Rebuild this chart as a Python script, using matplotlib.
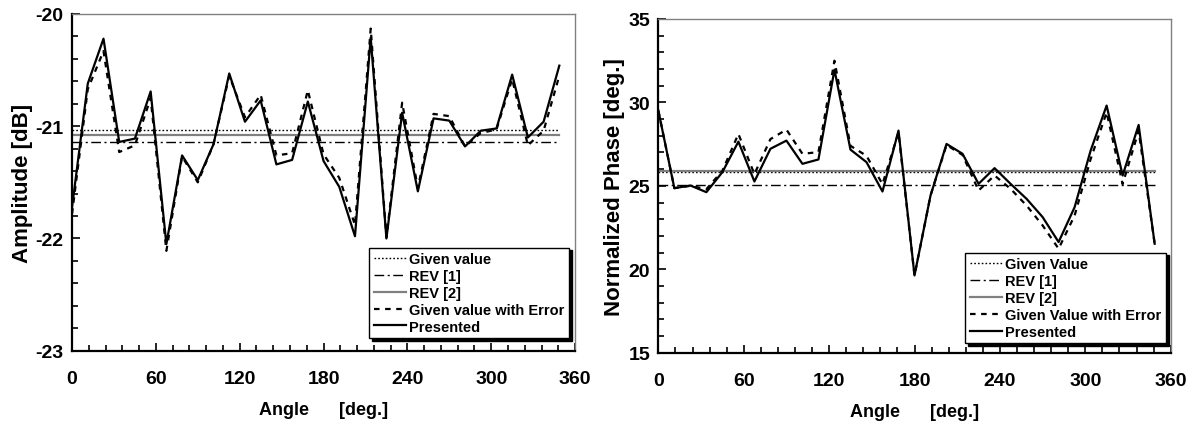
import matplotlib
matplotlib.use("Agg")
import matplotlib.pyplot as plt
from matplotlib.ticker import MultipleLocator

plt.rcParams['font.family'] = ['Liberation Sans', 'DejaVu Sans']
plt.rcParams['font.weight'] = 'bold'
plt.rcParams['axes.unicode_minus'] = False

angles = [0, 11.25, 22.5, 33.75, 45, 56.25, 67.5, 78.75, 90, 101.25, 112.5, 123.75,
          135, 146.25, 157.5, 168.75, 180, 191.25, 202.5, 213.75, 225, 236.25, 247.5,
          258.75, 270, 281.25, 292.5, 303.75, 315, 326.25, 337.5, 348.75]

# Amplitude [dB]
amp_presented = [-21.72, -20.62, -20.22, -21.14, -21.11, -20.69, -22.05, -21.26, -21.48, -21.16,
                 -20.53, -20.96, -20.77, -21.34, -21.30, -20.78, -21.31, -21.54, -21.98, -20.21,
                 -22.00, -20.88, -21.58, -20.93, -20.95, -21.18, -21.04, -21.02, -20.54, -21.10,
                 -20.96, -20.46]
amp_with_error = [-21.78, -20.67, -20.33, -21.23, -21.17, -20.75, -22.11, -21.27, -21.50, -21.16,
                  -20.55, -20.92, -20.72, -21.26, -21.24, -20.68, -21.25, -21.46, -21.88, -20.13,
                  -21.99, -20.79, -21.55, -20.89, -20.91, -21.18, -21.06, -21.03, -20.58, -21.17,
                  -21.04, -20.55]
amp_given = -21.03
amp_rev1 = -21.14
amp_rev2 = -21.08

# Normalized phase [deg.]
ph_presented = [29.51, 24.86, 25.02, 24.62, 25.82, 27.65, 25.26, 27.22, 27.71, 26.32,
                26.58, 31.96, 27.17, 26.42, 24.66, 28.31, 19.63, 24.42, 27.51, 26.92,
                25.12, 26.06, 25.12, 24.22, 23.13, 21.63, 23.72, 27.11, 29.81, 25.62,
                28.65, 21.53]
ph_with_error = [29.51, 24.86, 25.00, 24.80, 25.90, 28.11, 25.70, 27.80, 28.37, 26.92,
                 27.02, 32.50, 27.40, 26.80, 25.10, 28.20, 19.63, 24.42, 27.45, 26.85,
                 24.72, 25.62, 24.82, 23.82, 22.63, 21.23, 23.22, 26.60, 29.40, 25.10,
                 28.30, 21.53]
ph_given = 25.83
ph_rev1 = 25.06
ph_rev2 = 25.89

x_ticks = [0, 60, 120, 180, 240, 300, 360]

fig = plt.figure(figsize=(11.97, 4.27), dpi=100)
ax1 = fig.add_axes([0.0602, 0.1763, 0.4202, 0.7886])
ax2 = fig.add_axes([0.5500, 0.1717, 0.4280, 0.7815])


def draw(ax, pres, err, given, rev1, rev2, labels, ylim, ymajor, yminor, ylabel, legend_anchor):
    x0, x1 = angles[0], angles[-1]
    ax.plot([x0, x1], [given, given], color='black', lw=1.0, ls=(0, (1.2, 1.5)), label=labels[0])
    ax.plot([x0, x1], [rev1, rev1], color='black', lw=1.0, ls=(0, (7, 2.5, 1.5, 2.5)), label=labels[1])
    ax.plot([x0, x1], [rev2, rev2], color='#808080', lw=1.6, ls='-', label=labels[2])
    ax.plot(angles, err, color='black', lw=1.6, ls=(0, (2.5, 2.5)), label=labels[3])
    ax.plot(angles, pres, color='black', lw=1.6, ls='-', label=labels[4])

    ax.set_xlim(0, 360)
    ax.set_ylim(*ylim)
    ax.set_xticks(x_ticks)
    ax.xaxis.set_minor_locator(MultipleLocator(12))
    ax.yaxis.set_major_locator(MultipleLocator(ymajor))
    ax.yaxis.set_minor_locator(MultipleLocator(yminor))
    ax.tick_params(which='both', direction='in', top=False, right=False, width=1.2, color='black')
    ax.tick_params(which='major', length=6)
    ax.tick_params(which='minor', length=4)
    ax.tick_params(axis='x', which='major', pad=14, labelsize=14)
    ax.tick_params(axis='y', which='major', pad=6, labelsize=14)
    for lab in ax.get_xticklabels() + ax.get_yticklabels():
        lab.set_fontweight('bold')

    for s in ('top', 'right'):
        ax.spines[s].set_color('#808080')
        ax.spines[s].set_linewidth(1.0)
    for s in ('left', 'bottom'):
        ax.spines[s].set_color('black')
        ax.spines[s].set_linewidth(1.6)

    ax.set_xlabel('Angle      [deg.]', fontsize=13, fontweight='bold', labelpad=10)
    ax.set_ylabel(ylabel, fontsize=16, fontweight='bold', labelpad=2)

    leg = ax.legend(loc='lower right', bbox_to_anchor=legend_anchor,
                    frameon=True, fancybox=False, handlelength=2.2, handletextpad=0.25,
                    labelspacing=0.2, borderpad=0.3, borderaxespad=0.0,
                    shadow={'ox': 2, 'oy': -2, 'color': 'black', 'alpha': 1.0},
                    prop={'weight': 'bold', 'size': 10.5})
    fr = leg.get_frame()
    fr.set_edgecolor('black')
    fr.set_linewidth(1.0)
    fr.set_alpha(1.0)
    return leg


draw(ax1, amp_presented, amp_with_error, amp_given, amp_rev1, amp_rev2,
     ['Given value', 'REV [1]', 'REV [2]', 'Given value with Error', 'Presented'],
     (-23, -20), 1, 0.2, 'Amplitude [dB]', (0.988, 0.038))
draw(ax2, ph_presented, ph_with_error, ph_given, ph_rev1, ph_rev2,
     ['Given Value', 'REV [1]', 'REV [2]', 'Given Value with Error', 'Presented'],
     (15, 35), 5, 1, 'Normalized Phase [deg.]', (0.991, 0.029))

fig.savefig('out.png', dpi=100)
